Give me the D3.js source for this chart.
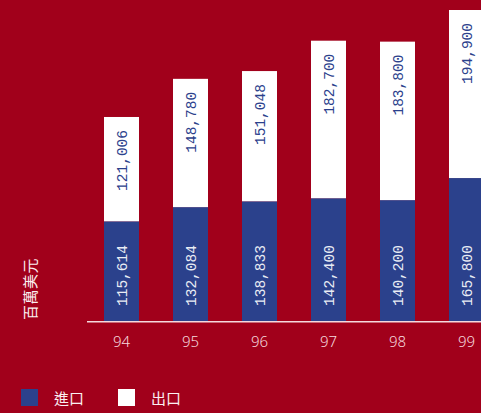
<!DOCTYPE html>
<html>
<head>
<meta charset="utf-8">
<script src="https://cdn.jsdelivr.net/npm/d3@7"></script>
<style>
html,body{margin:0;padding:0;background:#A1001B;}
svg{display:block;}
</style>
</head>
<body>
<svg id="chart" width="481" height="413"></svg>
<script>
const years = ["94","95","96","97","98","99"];
const imports = [115614,132084,138833,142400,140200,165800];
const exports = [121006,148780,151048,182700,183800,194900];
const seriesNames = ["進口","出口"];
const unitLabel = "百萬美元";

const BG = "#A1001B", BLUE = "#2B418C", WHITE = "#FFFFFF", LIGHT = "#F6D9DE";
const svg = d3.select("#chart");
svg.append("rect").attr("width",481).attr("height",413).attr("fill",BG);

const base = 321;
const x = d3.scaleBand().domain(years).range([87, 501])
  .paddingInner(34/69).paddingOuter(17/69);
const maxTotal = d3.max(years, (d,i)=>imports[i]+exports[i]);
const y = d3.scaleLinear().domain([0, maxTotal]).range([base, 10]);

const data = years.map((yr,i)=>({yr, imp:imports[i], exp:exports[i]}));
const fmt = d3.format(",");

const g = svg.append("g");
// import bars
g.selectAll("rect.imp").data(data).join("rect").attr("class","imp")
  .attr("x", d=>x(d.yr)).attr("width", x.bandwidth())
  .attr("y", d=>y(d.imp)).attr("height", d=>base - y(d.imp))
  .attr("fill", BLUE);
// export bars
g.selectAll("rect.exp").data(data).join("rect").attr("class","exp")
  .attr("x", d=>x(d.yr)).attr("width", x.bandwidth())
  .attr("y", d=>y(d.imp+d.exp)).attr("height", d=>y(d.imp) - y(d.imp+d.exp))
  .attr("fill", WHITE);

const monoFont = "'Liberation Mono', 'DejaVu Sans Mono', monospace";
// import labels (anchored at bottom)
g.selectAll("text.impl").data(data).join("text").attr("class","impl")
  .attr("transform", d=>`translate(${x(d.yr)+x.bandwidth()/2+5},${base-15}) rotate(-90)`)
  .attr("text-anchor","start")
  .style("font-family", monoFont).style("font-size","14.5px")
  .attr("fill","#E9ECF4")
  .text(d=>fmt(d.imp));
// export labels (anchored at top of segment)
g.selectAll("text.expl").data(data).join("text").attr("class","expl")
  .attr("transform", d=>`translate(${x(d.yr)+x.bandwidth()/2+5},${y(d.imp+d.exp)+13}) rotate(-90)`)
  .attr("text-anchor","end")
  .style("font-family", monoFont).style("font-size","14.5px")
  .attr("fill", BLUE)
  .text(d=>fmt(d.exp));

// x axis
const xAxis = svg.append("g").attr("transform",`translate(0,${base+0.75})`)
  .call(d3.axisBottom(x).tickSize(0).tickPadding(15));
xAxis.select(".domain").attr("d","M87,0H481").attr("stroke",LIGHT).attr("stroke-width",1.5);
xAxis.selectAll("text").attr("fill",LIGHT)
  .style("font-family","'Noto Sans', sans-serif").style("font-size","15px").style("font-weight","300");

// unit label
svg.append("text")
  .attr("transform","translate(29,289) rotate(-90)")
  .attr("text-anchor","middle").attr("dominant-baseline","central")
  .style("font-family","'Noto Sans CJK TC', sans-serif").style("font-size","15px").style("font-weight","400")
  .style("letter-spacing","0.5px")
  .attr("fill","#FBEFF1").text(unitLabel);

// legend
const legend = svg.append("g");
const legItems = [{name:seriesNames[0], color:BLUE, x:21},{name:seriesNames[1], color:WHITE, x:118}];
legItems.forEach(it=>{
  legend.append("rect").attr("x",it.x).attr("y",389).attr("width",17).attr("height",17).attr("fill",it.color);
  legend.append("text").attr("x",it.x+33).attr("y",397.5).attr("dominant-baseline","central")
    .style("font-family","'Noto Sans CJK TC', sans-serif").style("font-size","15px").style("font-weight","400")
    .attr("fill","#FBEFF1").text(it.name);
});
</script>
</body>
</html>
